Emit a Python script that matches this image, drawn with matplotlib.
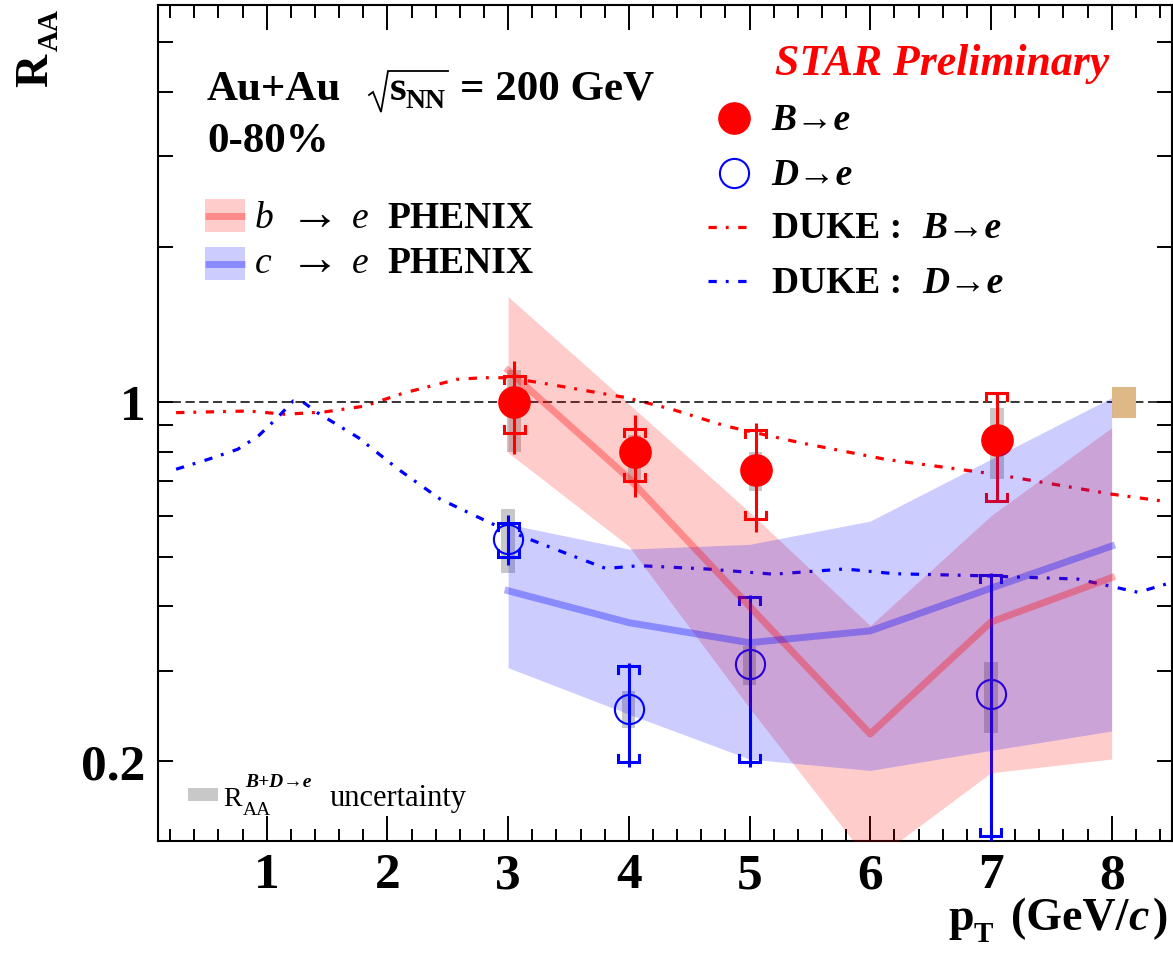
import numpy as np
import matplotlib
matplotlib.use('Agg')
import matplotlib.pyplot as plt
from matplotlib.patches import Rectangle
from matplotlib.ticker import FixedLocator, FixedFormatter, NullFormatter

SERIF = ['Liberation Serif', 'DejaVu Serif']

# ---------------- data ----------------
# STAR B->e
x_B = [3.05, 4.05, 5.05, 7.05]
raa_B = [1.00, 0.80, 0.737, 0.841]
stat_hi_B = [1.20, 0.94, 0.908, 1.04]
stat_lo_B = [0.79, 0.654, 0.559, 0.641]
sys_hi_B = [1.12, 0.886, 0.881, 1.04]
sys_lo_B = [0.87, 0.70, 0.591, 0.641]
unc_hi_B = [1.15, 0.86, 0.80, 0.973]
unc_lo_B = [0.80, 0.705, 0.67, 0.706]

# STAR D->e
x_D = [3.0, 4.0, 5.0, 7.0]
raa_D = [0.540, 0.253, 0.309, 0.270]
stat_hi_D = [0.601, 0.311, 0.421, 0.464]
stat_lo_D = [0.481, 0.195, 0.195, 0.13]
sys_hi_D = [0.582, 0.307, 0.418, 0.460]
sys_lo_D = [0.50, 0.199, 0.199, 0.143]
unc_hi_D = [0.618, 0.274, 0.335, 0.312]
unc_lo_D = [0.464, 0.232, 0.281, 0.227]

# global normalisation uncertainty box
norm_x = [8.0, 8.2]
norm_y = [0.93, 1.07]

# PHENIX bands
phenix_x = [3, 4, 5, 6, 7, 8]
b_cen = [1.15, 0.71, 0.40, 0.226, 0.373, 0.455]
b_hi = [1.60, 0.99, 0.61, 0.367, 0.60, 0.89]
b_lo = [0.796, 0.524, 0.254, 0.127, 0.19, 0.202]
c_cen = [0.429, 0.372, 0.340, 0.3585, 0.434, 0.524]
c_hi = [0.578, 0.517, 0.528, 0.586, 0.773, 1.018]
c_lo = [0.304, 0.247, 0.202, 0.192, 0.21, 0.229]

# DUKE model curves
dukeB_x = [0.25, 0.85, 1.15, 1.48, 1.81, 2.14, 2.58, 2.79, 2.99, 3.26, 3.98,
           4.36, 4.80, 5.41, 6.12, 7.03, 8.0, 8.44]
dukeB_y = [0.952, 0.959, 0.945, 0.955, 0.98, 1.04, 1.105, 1.113, 1.113, 1.089,
           1.018, 0.966, 0.897, 0.833, 0.773, 0.723, 0.661, 0.640]
dukeD_x = [0.25, 0.52, 0.76, 0.93, 1.09, 1.22, 1.31, 1.42, 1.76, 2.09, 2.44,
           2.86, 3.18, 3.53, 3.81, 4.09, 4.64, 5.2, 5.79, 6.2, 6.89, 7.72,
           8.22, 8.45]
dukeD_y = [0.739, 0.773, 0.808, 0.857, 0.931, 1.003, 0.995, 0.952, 0.851,
           0.739, 0.646, 0.580, 0.540, 0.502, 0.474, 0.480, 0.473, 0.462,
           0.473, 0.463, 0.459, 0.452, 0.426, 0.442]

x_major = [1, 2, 3, 4, 5, 6, 7, 8]
y_major = [0.2, 1]
y_major_labels = ['0.2', '1']
y_minor = [0.3, 0.4, 0.5, 0.6, 0.7, 0.8, 0.9, 2, 3, 4, 5]

# ---------------- figure ----------------
W, H = 1173, 954
fig = plt.figure(figsize=(W / 100, H / 100), dpi=100)
L, R_, T, B = 158, 1172, 6, 842
ax = fig.add_axes([L / W, 1 - B / H, (R_ - L) / W, (B - T) / H])
ax.set_yscale('log')
ax.set_xlim(0.1, 8.5)
ax.set_ylim(0.14, 5.9)

DASHDOT = (0, (2.6, 2.8, 0.9, 3.0))
LW_DUKE = 2.3
ax.plot(dukeB_x, dukeB_y, color='red', lw=LW_DUKE, ls=DASHDOT, zorder=2)
ax.plot(dukeD_x, dukeD_y, color='blue', lw=LW_DUKE, ls=DASHDOT, zorder=2)
ax.axhline(1.0, color='black', lw=1.1, ls=(0, (6, 3)), zorder=2)

# gray R_AA^{B+D} uncertainty boxes
hw = 0.055
for xs, lo, hi in [(x_B, unc_lo_B, unc_hi_B), (x_D, unc_lo_D, unc_hi_D)]:
    for xi, l, h in zip(xs, lo, hi):
        ax.add_patch(Rectangle((xi - hw, l), 2 * hw, h - l, color='#c8c8c8',
                               lw=0, zorder=2.5))

def draw_points(xs, yc, slo, shi, ylo, yhi, color, filled):
    dx = 0.087
    f = 10 ** (-7 / 515)
    for xi, a, b in zip(xs, slo, shi):
        ax.plot([xi, xi], [a, b], color=color, lw=2.2, zorder=3,
                solid_capstyle='butt')
    for xi, a, b in zip(xs, ylo, yhi):
        ax.plot([xi - dx, xi - dx, xi + dx, xi + dx], [b * f, b, b, b * f],
                color=color, lw=2.2, zorder=3, solid_joinstyle='miter')
        ax.plot([xi - dx, xi - dx, xi + dx, xi + dx], [a / f, a, a, a / f],
                color=color, lw=2.2, zorder=3, solid_joinstyle='miter')
    if filled:
        ax.plot(xs, yc, 'o', ms=22.5, color=color, mec=color, zorder=3.5)
    else:
        ax.plot(xs, yc, 'o', ms=21, mfc='none', mec=color, mew=1.5, zorder=3.5)

draw_points(x_B, raa_B, stat_lo_B, stat_hi_B, sys_lo_B, sys_hi_B, 'red', True)
draw_points(x_D, raa_D, stat_lo_D, stat_hi_D, sys_lo_D, sys_hi_D, 'blue', False)

ax.add_patch(Rectangle((norm_x[0], norm_y[0]), norm_x[1] - norm_x[0],
                       norm_y[1] - norm_y[0], color='#deb887', lw=0, zorder=3))

# PHENIX bands (drawn on top, semi transparent)
ax.fill_between(phenix_x, b_lo, b_hi, color='red', alpha=0.2, lw=0, zorder=5)
ax.fill_between(phenix_x, c_lo, c_hi, color='blue', alpha=0.2, lw=0, zorder=5)
ax.plot(phenix_x, b_cen, color='red', alpha=0.32, lw=5, zorder=5.5)
ax.plot(phenix_x, c_cen, color='blue', alpha=0.32, lw=5, zorder=5.5)

# ticks
ax.xaxis.set_major_locator(FixedLocator(x_major))
ax.xaxis.set_minor_locator(FixedLocator(np.arange(0.2, 8.5, 0.2)))
ax.yaxis.set_major_locator(FixedLocator(y_major))
ax.yaxis.set_major_formatter(FixedFormatter(y_major_labels))
ax.yaxis.set_minor_locator(FixedLocator(y_minor))
ax.yaxis.set_minor_formatter(NullFormatter())
ax.tick_params(axis='both', which='both', direction='in', top=True, right=True,
               width=1.4, color='black')
ax.tick_params(axis='x', which='major', length=18, pad=8)
ax.tick_params(axis='x', which='minor', length=9)
ax.tick_params(axis='y', which='major', length=11, pad=9)
ax.tick_params(axis='y', which='minor', length=11)
for lab in ax.get_xticklabels() + ax.get_yticklabels():
    lab.set_fontfamily(SERIF)
    lab.set_fontweight('bold')
    lab.set_fontsize(37)
for s in ax.spines.values():
    s.set_linewidth(1.5)

# ---------------- overlay (pixel coordinates) ----------------
ov = fig.add_axes([0, 0, 1, 1], zorder=10)
ov.set_xlim(0, W)
ov.set_ylim(H, 0)
ov.axis('off')
ov.patch.set_alpha(0)

def txt(x, y, s, size, weight='bold', style='normal', color='black', **kw):
    return ov.text(x, y, s, fontsize=size, fontweight=weight, fontstyle=style,
                   color=color, family=SERIF, ha='left', va='baseline', **kw)

# axis titles
txt(47, 87, 'R', 33, rotation=90, rotation_mode='anchor')
txt(58, 51, 'AA', 21, rotation=90, rotation_mode='anchor')
txt(948, 930, 'p', 33)
txt(974, 942, 'T', 21)
txt(1011, 930, '(GeV/', 33)
txt(1128, 930, 'c', 33, style='italic')
txt(1153, 930, ')', 33)

# system label
txt(207, 100, 'Au+Au', 31)
ov.plot([369, 373, 381, 388, 448], [96, 93, 113, 72, 72], color='black',
        lw=1.3, solid_joinstyle='miter')
txt(390, 100, 's', 31)
txt(405, 108, 'NN', 20)
txt(460, 100, '= 200 GeV', 31)
txt(207, 152, '0-80%', 31)

# PHENIX legend
ov.add_patch(Rectangle((205, 200), 40, 33, color='red', alpha=0.2, lw=0))
ov.plot([205, 245], [217, 217], color='red', alpha=0.32, lw=5,
        solid_capstyle='butt')
ov.add_patch(Rectangle((205, 248), 40, 33, color='blue', alpha=0.2, lw=0))
ov.plot([205, 245], [265, 265], color='blue', alpha=0.32, lw=5,
        solid_capstyle='butt')
for yb, q in [(228, 'b'), (273, 'c')]:
    txt(255, yb, q, 27, weight='normal', style='italic')
    txt(290, yb + 1, '\u2192', 36, weight='normal')
    txt(352, yb, 'e', 27, weight='normal', style='italic')
    txt(387, yb, 'PHENIX', 27)

# STAR legend
txt(775, 75, 'STAR Preliminary', 31.5, style='italic', color='red')
ov.plot([734], [119], 'o', ms=22.5, color='red')
ov.plot([734], [174], 'o', ms=21, mfc='none', mec='blue', mew=1.5)
txt(771, 130, 'B\u2192e', 27, style='italic')
txt(771, 185, 'D\u2192e', 27, style='italic')
ov.plot([708, 753], [228, 228], color='red', lw=LW_DUKE, ls=DASHDOT)
ov.plot([708, 753], [282, 282], color='blue', lw=LW_DUKE, ls=DASHDOT)
txt(772, 238, 'DUKE :', 27)
txt(922, 238, 'B\u2192e', 27, style='italic')
txt(772, 293, 'DUKE :', 27)
txt(922, 293, 'D\u2192e', 27, style='italic')

# uncertainty legend
ov.add_patch(Rectangle((188, 789), 30, 13, color='#c8c8c8', lw=0))
txt(223, 806, 'R', 20, weight='normal')
txt(243, 815, 'AA', 14, weight='normal')
txt(245, 787, 'B+D\u2192e', 14, style='italic')
txt(330, 806, 'uncertainty', 22, weight='normal')

fig.savefig('out.png', dpi=100)
